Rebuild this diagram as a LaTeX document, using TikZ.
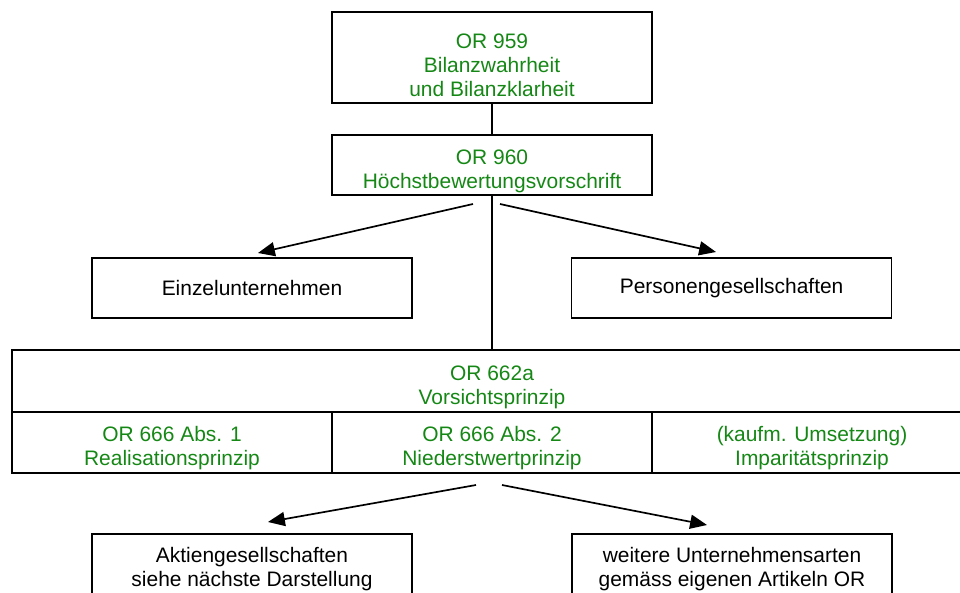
\documentclass[tikz,border=0pt]{standalone}
\usepackage{fontspec}
\setmainfont{Liberation Sans}
\usetikzlibrary{arrows.meta, positioning, calc}
\definecolor{orgreen}{RGB}{20, 135, 20}

\begin{document}
\begin{tikzpicture}[
  every node/.style={font=\fontsize{14.9}{17.1}\selectfont},
  orbox/.style={draw, line width=1.2pt, text=orgreen, align=center, inner sep=0pt, minimum width=8cm},
  firmbox/.style={draw, line width=1.2pt, align=center, inner sep=0pt, minimum width=8cm},
  pfeil/.style={line width=1.2pt, -{Triangle[length=12pt, width=10pt]}}
]
  \useasboundingbox (0, 0) rectangle (24, 14.8);

  % Top: OR 959 and OR 960
  \node[orbox, minimum height=2.275cm] (or959) at (12.3, 13.3625) {
    \rule{0pt}{22pt}OR 959\\Bilanzwahrheit\\und Bilanzklarheit
  };
  \node[orbox, minimum height=1.5cm] (or960) at (12.3, 10.675) {
    \rule{0pt}{20pt}OR 960\\H\"ochstbewertungsvorschrift
  };

  % Company types
  \node[firmbox, minimum height=1.5cm] (einzel) at (6.3, 7.6) {Einzelunternehmen};
  \node[firmbox, minimum height=1.5cm] (personen) at (18.29, 7.6) {Personengesellschaften};

  % OR 662a with its three principles
  \node[orbox, minimum width=24cm, minimum height=1.55cm] (vorsicht) at (12.3, 5.275) {
    \rule{0pt}{19pt}OR 662a\\Vorsichtsprinzip
  };
  \node[orbox, minimum height=1.525cm] (real) at (4.3, 3.7375) {
    \rule{0pt}{19pt}OR 666 Abs. 1\\Realisationsprinzip
  };
  \node[orbox, minimum height=1.525cm] (nieder) at (12.3, 3.7375) {
    \rule{0pt}{19pt}OR 666 Abs. 2\\Niederstwertprinzip
  };
  \node[orbox, minimum height=1.525cm] (impar) at (20.3, 3.7375) {
    \rule{0pt}{19pt}(kaufm. Umsetzung)\\Imparit\"atsprinzip
  };

  % Bottom boxes
  \node[firmbox, minimum height=1.75cm] (aktien) at (6.3, 0.575) {
    Aktiengesellschaften\\siehe n\"achste Darstellung
  };
  \node[firmbox, minimum height=1.75cm] (weitere) at (18.3, 0.575) {
    weitere Unternehmensarten\\gem\"ass eigenen Artikeln OR
  };

  % Free ends of the arrows
  \coordinate (from960l) at (11.825, 9.7);
  \coordinate (from960r) at (12.5, 9.7);
  \coordinate (toeinzel) at (6.45, 8.475);
  \coordinate (topersonen) at (17.9, 8.5);
  \coordinate (from666l) at (11.9, 2.675);
  \coordinate (from666r) at (12.55, 2.675);
  \coordinate (toaktien) at (6.7, 1.75);
  \coordinate (toweitere) at (17.675, 1.675);

  % Connectors
  \draw[line width=1.2pt] (or959) -- (or960);
  \draw[line width=1.2pt] (or960) -- (vorsicht);
  \draw[pfeil] (from960l) -- (toeinzel);
  \draw[pfeil] (from960r) -- (topersonen);
  \draw[pfeil] (from666l) -- (toaktien);
  \draw[pfeil] (from666r) -- (toweitere);
\end{tikzpicture}
\end{document}
